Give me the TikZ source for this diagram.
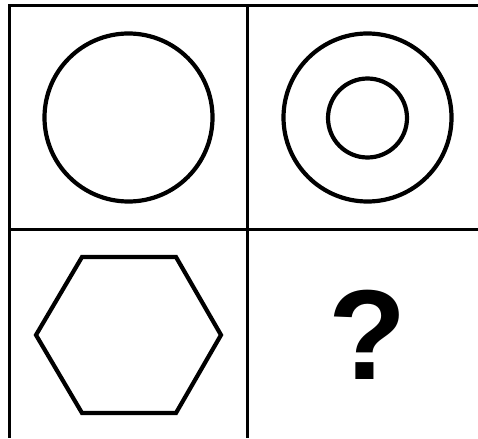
\documentclass[tikz,border=0pt]{standalone}
\usepackage{fontspec}
\setmainfont{Liberation Sans}
\usetikzlibrary{positioning}
\tikzset{grid/.style={line width=3pt,draw=black},
  figline/.style={line width=4.2pt,draw=black},
  qmark/.style={inner sep=0pt,font=\fontsize{128}{128}\selectfont\bfseries}}

\begin{document}
\begin{tikzpicture}[x=1pt,y=-1pt]
    \useasboundingbox (0,0) rectangle (478,438);
    % grid
    \draw[grid] (478,6)--(9.5,6)--(9.5,438);
    \draw[grid] (247.5,6)--(247.5,438);
    \draw[grid] (9.5,229)--(478,229);
    % top row
    \draw[figline] (128.5,117.5) circle (84);
    \draw[figline] (367.5,117.5) circle (84);
    \draw[figline] (367.5,118) circle (39.5);
    % hexagon
    \draw[figline,line join=miter] (36,335)--(82,257)--(176,257)--(221,335)
      --(176,413)--(82,413)--cycle;
    % missing answer
    \node[qmark] (q) at (367.5,334.5) {?};
  \end{tikzpicture}
\end{document}
